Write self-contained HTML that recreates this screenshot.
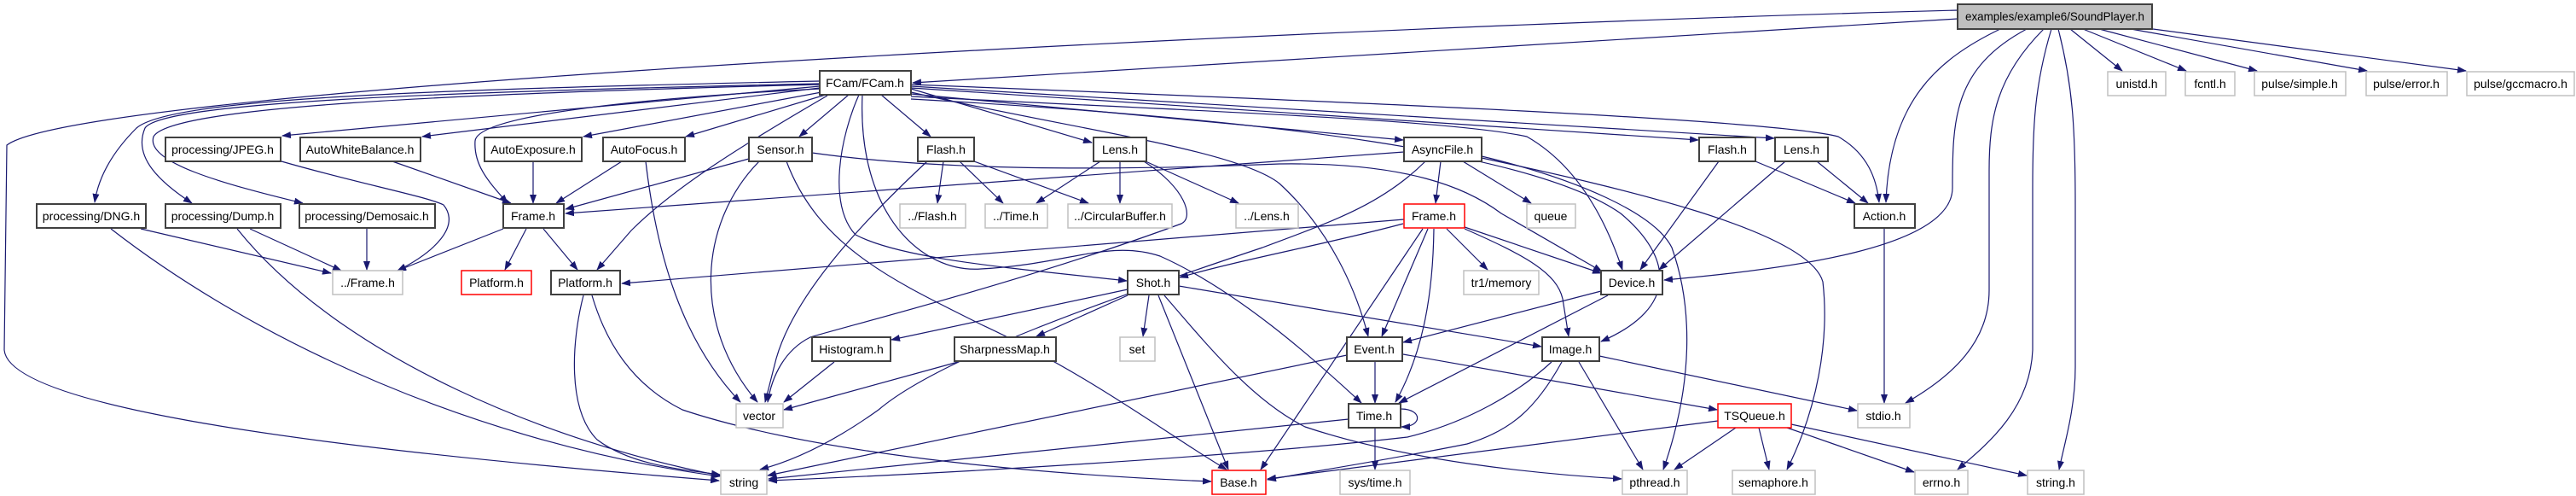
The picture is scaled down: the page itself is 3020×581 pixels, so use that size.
<!DOCTYPE html>
<html><head><meta charset="utf-8"><style>
html,body{margin:0;padding:0;background:#fff;}
svg{display:block;}
text{font-family:"Liberation Sans",sans-serif;font-size:14px;fill:#000;}
.e{fill:none;stroke:#191970;stroke-width:1.2;marker-end:url(#a);}
.b{fill:#fff;stroke:#404040;stroke-width:2;}
.g{fill:#fff;stroke:#c0c0c0;stroke-width:1.5;}
.r{fill:#fff;stroke:#ff0000;stroke-width:1.5;}
.s{fill:#bfbfbf;stroke:#404040;stroke-width:2;}
</style></head><body>
<svg width="3020" height="581" viewBox="0 0 3020 581" xmlns="http://www.w3.org/2000/svg">
<defs><marker id="a" markerUnits="userSpaceOnUse" markerWidth="11" markerHeight="8" refX="10" refY="4" orient="auto"><path d="M0,0 L11,4 L0,8 z" fill="#191970"/></marker></defs>
<g>
<!-- SoundPlayer edges -->
<path class="e" d="M2295,22 L1070,97"/>
<path class="e" d="M2295,12 C1600,30 100,100 8,170 L5,410 C10,470 300,520 843,563"/>
<path class="e" d="M2345,34 C2270,70 2215,120 2211,237"/>
<path class="e" d="M2376,34 C2290,80 2289,140 2289,220 C2289,290 2100,315 1951,328"/>
<path class="e" d="M2396,34 C2340,90 2332,140 2332,200 L2332,340 C2332,400 2290,440 2234,472"/>
<path class="e" d="M2405,34 C2385,100 2383,150 2383,220 L2383,410 C2380,480 2330,520 2295,550"/>
<path class="e" d="M2413,34 C2430,100 2433,150 2433,240 L2433,430 C2433,480 2420,520 2414,550"/>
<path class="e" d="M2427,34 L2488,83"/>
<path class="e" d="M2442,34 L2563,83"/>
<path class="e" d="M2461,34 L2646,83"/>
<path class="e" d="M2498,34 L2775,83"/>
<path class="e" d="M2524,34 L2891,83"/>
<!-- FCam edges -->
<path class="e" d="M961,101 L331,159"/>
<path class="e" d="M961,103 L495,160"/>
<path class="e" d="M963,108 L684,160"/>
<path class="e" d="M968,111 L804,160"/>
<path class="e" d="M961,95 C500,105 200,115 160,150 C130,180 115,210 111,237"/>
<path class="e" d="M961,98 C500,108 190,120 170,150 C155,185 190,215 225,238"/>
<path class="e" d="M961,99 C520,110 200,125 180,160 C170,190 260,215 355,238"/>
<path class="e" d="M961,104 C750,115 560,135 557,165 C555,195 575,215 595,238"/>
<path class="e" d="M970,112 C870,170 790,220 740,270 L700,316"/>
<path class="e" d="M995,111 L937,160"/>
<path class="e" d="M1033,111 L1091,160"/>
<path class="e" d="M1068,104 L1280,167"/>
<path class="e" d="M1007,111 C985,160 970,240 1003,275 C1060,305 1200,315 1321,329"/>
<path class="e" d="M1011,111 C1005,250 1080,320 1150,315 C1250,310 1300,280 1360,300 C1450,340 1540,420 1596,472"/>
<path class="e" d="M1068,108 C1250,150 1450,175 1500,215 C1560,270 1590,340 1604,394"/>
<path class="e" d="M1068,110 L1645,164"/>
<path class="e" d="M1068,113 C1400,130 1700,140 1790,160 C1860,200 1890,280 1902,316"/>
<path class="e" d="M1068,116 C1500,140 1800,180 1900,250 C1960,300 1970,360 1877,400"/>
<path class="e" d="M1068,103 L1991,164"/>
<path class="e" d="M1068,101 L2080,162"/>
<path class="e" d="M1068,99 C1600,120 2080,140 2155,160 C2190,180 2200,210 2203,237"/>
<!-- row2 edges -->
<path class="e" d="M460,189 L599,238"/>
<path class="e" d="M625,189 L625,238"/>
<path class="e" d="M729,189 L652,238"/>
<path class="e" d="M757,189 C770,300 800,400 868,471"/>
<path class="e" d="M878,186 L663,245"/>
<path class="e" d="M890,189 C820,260 810,380 888,471"/>
<path class="e" d="M922,189 C960,290 1050,330 1150,380 C1280,440 1370,510 1438,550"/>
<path class="e" d="M952,179 C1100,200 1300,200 1500,192 C1650,190 1720,220 1760,250 L1878,318"/>
<path class="e" d="M1106,189 L1099,238"/>
<path class="e" d="M1125,189 L1176,238"/>
<path class="e" d="M1142,189 L1276,238"/>
<path class="e" d="M1087,189 C1000,270 930,350 910,420 L897,471"/>
<path class="e" d="M1290,189 L1215,238"/>
<path class="e" d="M1313,189 L1313,238"/>
<path class="e" d="M1343,189 L1452,238"/>
<path class="e" d="M1341,189 C1390,220 1400,255 1385,262 C1200,330 1000,380 950,395 C920,410 905,440 900,471"/>
<path class="e" d="M330,189 C420,215 500,230 520,240 C540,265 510,295 466,317"/>
<path class="e" d="M1646,178 L663,250"/>
<path class="e" d="M1689,189 L1683,238"/>
<path class="e" d="M1715,189 L1795,238"/>
<path class="e" d="M1671,189 C1620,240 1560,260 1480,290 C1300,350 1100,420 1030,480 C960,530 910,545 891,550"/>
<path class="e" d="M1737,183 C1850,210 1940,250 1960,290 C1985,360 1985,450 1950,550"/>
<path class="e" d="M1737,185 C1900,220 2120,270 2137,330 C2145,400 2130,480 2095,550"/>
<path class="e" d="M2015,189 L1923,316"/>
<path class="e" d="M2058,189 L2175,238"/>
<path class="e" d="M2093,189 L1945,316"/>
<path class="e" d="M2130,189 L2190,238"/>
<!-- row3 edges -->
<path class="e" d="M165,268 L388,320"/>
<path class="e" d="M130,268 C300,400 560,520 844,558"/>
<path class="e" d="M293,268 L400,317"/>
<path class="e" d="M278,268 C400,420 650,520 844,557"/>
<path class="e" d="M430,268 L430,316"/>
<path class="e" d="M590,268 L466,317"/>
<path class="e" d="M617,268 L592,316"/>
<path class="e" d="M637,268 L677,316"/>
<path class="e" d="M1646,257 L729,332"/>
<path class="e" d="M1645,262 C1560,285 1450,305 1383,325"/>
<path class="e" d="M1668,268 L1478,550"/>
<path class="e" d="M1674,268 L1620,394"/>
<path class="e" d="M1681,268 C1680,340 1670,410 1636,471"/>
<path class="e" d="M1696,268 L1744,316"/>
<path class="e" d="M1717,266 L1877,320"/>
<path class="e" d="M1717,268 C1790,300 1825,320 1832,350 L1839,394"/>
<path class="e" d="M2209,268 L2209,472"/>
<!-- row4 edges -->
<path class="e" d="M684,346 C670,400 665,480 700,515 C740,545 800,550 844,556"/>
<path class="e" d="M694,346 C710,400 740,450 800,480 C950,530 1200,555 1420,564"/>
<path class="e" d="M1322,339 L1045,398"/>
<path class="e" d="M1322,346 L1215,394"/>
<path class="e" d="M1347,346 L1340,394"/>
<path class="e" d="M1358,346 L1440,550"/>
<path class="e" d="M1365,346 C1420,410 1470,470 1530,500 C1650,540 1800,555 1901,561"/>
<path class="e" d="M1382,335 L1807,406"/>
<path class="e" d="M1877,341 L1645,401"/>
<path class="e" d="M1885,346 L1640,472"/>
<!-- row5 edges -->
<path class="e" d="M978,424 L919,471"/>
<path class="e" d="M1123,424 L919,480"/>
<path class="e" d="M1612,424 L1612,472"/>
<path class="e" d="M1645,415 L2013,480"/>
<path class="e" d="M1579,416 L900,557"/>
<path class="e" d="M1819,424 C1780,460 1720,495 1650,512 C1450,535 1100,555 901,563"/>
<path class="e" d="M1831,424 C1800,480 1770,505 1720,520 C1620,540 1540,552 1486,562"/>
<path class="e" d="M1851,424 L1926,550"/>
<path class="e" d="M1875,417 L2177,481"/>
<!-- row6 edges -->
<path class="e" d="M1642,479 C1668,479 1668,500 1643,500"/>
<path class="e" d="M1612,501 L1612,550"/>
<path class="e" d="M1581,491 L901,561"/>
<path class="e" d="M2014,493 L1486,561"/>
<path class="e" d="M2035,501 L1963,550"/>
<path class="e" d="M2062,501 L2074,550"/>
<path class="e" d="M2095,501 L2244,553"/>
<path class="e" d="M2100,497 L2376,557"/>
</g>
<g>
<rect class="s" x="2295" y="5" width="228" height="29"/><text x="2409" y="24" textLength="210" lengthAdjust="spacingAndGlyphs" text-anchor="middle">examples/example6/SoundPlayer.h</text>
<rect class="g" x="2471" y="84" width="68" height="28"/><text x="2505" y="103" text-anchor="middle">unistd.h</text>
<rect class="g" x="2562" y="84" width="58" height="28"/><text x="2591" y="103" text-anchor="middle">fcntl.h</text>
<rect class="g" x="2643" y="84" width="107" height="28"/><text x="2696" y="103" text-anchor="middle">pulse/simple.h</text>
<rect class="g" x="2774" y="84" width="95" height="28"/><text x="2821" y="103" text-anchor="middle">pulse/error.h</text>
<rect class="g" x="2892" y="84" width="126" height="28"/><text x="2955" y="103" text-anchor="middle">pulse/gccmacro.h</text>
<rect class="b" x="961" y="83" width="107" height="28"/><text x="1014" y="102" text-anchor="middle">FCam/FCam.h</text>
<rect class="b" x="194" y="161" width="135" height="28"/><text x="261" y="180" text-anchor="middle">processing/JPEG.h</text>
<rect class="b" x="352" y="161" width="141" height="28"/><text x="422" y="180" text-anchor="middle">AutoWhiteBalance.h</text>
<rect class="b" x="568" y="161" width="114" height="28"/><text x="625" y="180" text-anchor="middle">AutoExposure.h</text>
<rect class="b" x="707" y="161" width="96" height="28"/><text x="755" y="180" text-anchor="middle">AutoFocus.h</text>
<rect class="b" x="878" y="161" width="74" height="28"/><text x="915" y="180" text-anchor="middle">Sensor.h</text>
<rect class="b" x="1076" y="161" width="66" height="28"/><text x="1109" y="180" text-anchor="middle">Flash.h</text>
<rect class="b" x="1282" y="161" width="62" height="28"/><text x="1313" y="180" text-anchor="middle">Lens.h</text>
<rect class="b" x="1646" y="161" width="91" height="28"/><text x="1691" y="180" text-anchor="middle">AsyncFile.h</text>
<rect class="b" x="1992" y="161" width="66" height="28"/><text x="2025" y="180" text-anchor="middle">Flash.h</text>
<rect class="b" x="2081" y="161" width="62" height="28"/><text x="2112" y="180" text-anchor="middle">Lens.h</text>
<rect class="b" x="43" y="239" width="128" height="28"/><text x="107" y="258" text-anchor="middle">processing/DNG.h</text>
<rect class="b" x="194" y="239" width="135" height="28"/><text x="261" y="258" text-anchor="middle">processing/Dump.h</text>
<rect class="b" x="351" y="239" width="159" height="28"/><text x="430" y="258" text-anchor="middle">processing/Demosaic.h</text>
<rect class="b" x="590" y="239" width="71" height="28"/><text x="625" y="258" text-anchor="middle">Frame.h</text>
<rect class="g" x="1055" y="239" width="77" height="28"/><text x="1093" y="258" text-anchor="middle">../Flash.h</text>
<rect class="g" x="1155" y="239" width="73" height="28"/><text x="1191" y="258" text-anchor="middle">../Time.h</text>
<rect class="g" x="1252" y="239" width="122" height="28"/><text x="1313" y="258" text-anchor="middle">../CircularBuffer.h</text>
<rect class="g" x="1449" y="239" width="73" height="28"/><text x="1485" y="258" text-anchor="middle">../Lens.h</text>
<rect class="r" x="1646" y="239" width="71" height="28"/><text x="1681" y="258" text-anchor="middle">Frame.h</text>
<rect class="g" x="1790" y="239" width="57" height="28"/><text x="1818" y="258" text-anchor="middle">queue</text>
<rect class="b" x="2174" y="239" width="71" height="28"/><text x="2209" y="258" text-anchor="middle">Action.h</text>
<rect class="g" x="390" y="317" width="82" height="28"/><text x="431" y="336" text-anchor="middle">../Frame.h</text>
<rect class="r" x="541" y="317" width="82" height="28"/><text x="582" y="336" text-anchor="middle">Platform.h</text>
<rect class="b" x="646" y="317" width="81" height="28"/><text x="686" y="336" text-anchor="middle">Platform.h</text>
<rect class="b" x="1322" y="317" width="60" height="28"/><text x="1352" y="336" text-anchor="middle">Shot.h</text>
<rect class="g" x="1716" y="317" width="88" height="28"/><text x="1760" y="336" text-anchor="middle">tr1/memory</text>
<rect class="b" x="1877" y="317" width="72" height="28"/><text x="1913" y="336" text-anchor="middle">Device.h</text>
<rect class="b" x="952" y="395" width="92" height="28"/><text x="998" y="414" text-anchor="middle">Histogram.h</text>
<rect class="b" x="1119" y="395" width="119" height="28"/><text x="1178" y="414" text-anchor="middle">SharpnessMap.h</text>
<rect class="g" x="1313" y="395" width="41" height="28"/><text x="1333" y="414" text-anchor="middle">set</text>
<rect class="b" x="1579" y="395" width="65" height="28"/><text x="1611" y="414" text-anchor="middle">Event.h</text>
<rect class="b" x="1808" y="395" width="67" height="28"/><text x="1841" y="414" text-anchor="middle">Image.h</text>
<rect class="g" x="863" y="473" width="55" height="28"/><text x="890" y="492" text-anchor="middle">vector</text>
<rect class="b" x="1581" y="473" width="61" height="28"/><text x="1611" y="492" text-anchor="middle">Time.h</text>
<rect class="r" x="2014" y="473" width="86" height="28"/><text x="2057" y="492" text-anchor="middle">TSQueue.h</text>
<rect class="g" x="2178" y="473" width="61" height="28"/><text x="2208" y="492" text-anchor="middle">stdio.h</text>
<rect class="g" x="845" y="551" width="54" height="28"/><text x="872" y="570" text-anchor="middle">string</text>
<rect class="r" x="1421" y="551" width="63" height="28"/><text x="1452" y="570" text-anchor="middle">Base.h</text>
<rect class="g" x="1571" y="551" width="82" height="28"/><text x="1612" y="570" text-anchor="middle">sys/time.h</text>
<rect class="g" x="1902" y="551" width="76" height="28"/><text x="1940" y="570" text-anchor="middle">pthread.h</text>
<rect class="g" x="2031" y="551" width="97" height="28"/><text x="2079" y="570" text-anchor="middle">semaphore.h</text>
<rect class="g" x="2245" y="551" width="62" height="28"/><text x="2276" y="570" text-anchor="middle">errno.h</text>
<rect class="g" x="2377" y="551" width="66" height="28"/><text x="2410" y="570" text-anchor="middle">string.h</text>
</g>
</svg>
</body></html>
